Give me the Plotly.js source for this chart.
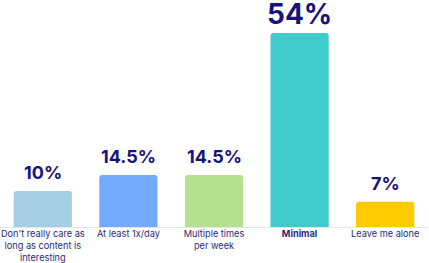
<!DOCTYPE html>
<html><head><meta charset="utf-8">
<script src="https://cdn.plot.ly/plotly-3.0.1.min.js"></script>
<style>html,body{margin:0;padding:0;background:#fff}#chart{width:429px;height:263px}</style>
</head><body><div id="chart"></div>
<script>
const categories = ["Don't really care as<br>long as content is<br>interesting", "At least 1x/day", "Multiple times<br>per week", "<b>Minimal</b>", "Leave me alone"];
const values = [10, 14.5, 14.5, 54, 7];
const valueLabels = ["10%", "14.5%", "14.5%", "54%", "7%"];
const colors = ["#a6cfe4", "#74aafb", "#b5e08f", "#3fcbcb", "#fecb02"];

const annotations = categories.map((c, i) => ({
  x: c, y: values[i], xref: 'x', yref: 'y', yanchor: 'bottom', showarrow: false,
  text: '<b>' + valueLabels[i] + '</b>', yshift: i === 3 ? 0 : 6,
  font: {family: 'Inter, sans-serif', size: i === 3 ? 28 : 18, color: '#17137a'}
}));

Plotly.newPlot('chart', [{
  type: 'bar', x: categories, y: values,
  marker: {color: colors, cornerradius: 3},
  hoverinfo: 'none'
}], {
  width: 429, height: 263,
  margin: {l: 0, r: 1, t: 0, b: 36},
  bargap: 0.32,
  paper_bgcolor: '#fff', plot_bgcolor: '#fff',
  showlegend: false,
  xaxis: {showline: true, linecolor: '#e6e6e6', linewidth: 1, ticks: '', showgrid: false, tickangle: 0,
    ticklabelstandoff: -2,
    tickfont: {family: 'Inter, sans-serif', size: 9.2, color: '#2a2a78'}, automargin: false, fixedrange: true},
  yaxis: {range: [0, 63.2], visible: false, showgrid: false, zeroline: false, fixedrange: true},
  annotations: annotations
}, {displayModeBar: false, staticPlot: true});
</script></body></html>
